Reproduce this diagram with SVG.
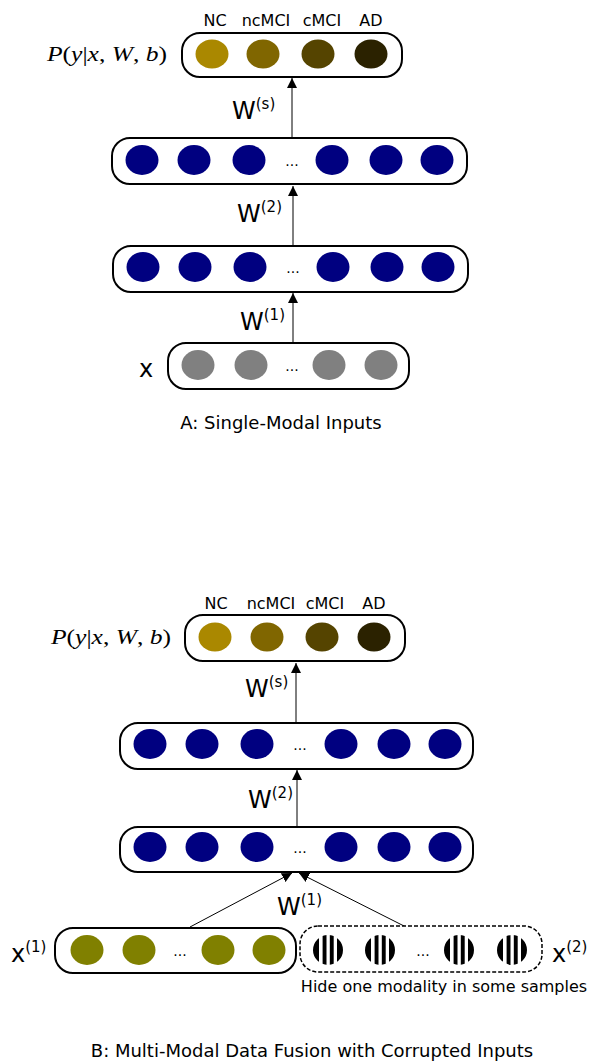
<svg xmlns="http://www.w3.org/2000/svg" width="590" height="1064" viewBox="0 0 590 1064">
<style>
.box{fill:#fff;stroke:#000;stroke-width:2}
.dbox{fill:#fff;stroke:#000;stroke-width:1.5;stroke-dasharray:4,2}
.lbl{font-family:"DejaVu Sans",sans-serif;font-size:16px;fill:#000;text-anchor:middle}
.hide{font-family:"DejaVu Sans",sans-serif;font-size:16px;fill:#000;text-anchor:middle}
.dots{font-family:"DejaVu Sans",sans-serif;font-size:14px;fill:#000;text-anchor:middle}
.cap{font-family:"DejaVu Sans",sans-serif;font-size:18px;fill:#000;text-anchor:middle}
.w{font-family:"DejaVu Sans",sans-serif;font-size:24px;fill:#000}
.sup{font-size:15px}
.math{font-family:"Liberation Serif",serif;font-size:21px;fill:#000}
.it{font-style:italic}
.edge{stroke:#000;stroke-width:1;fill:none;marker-end:url(#arr)}
.blue{fill:#000080}
.grey{fill:#808080}
.olive{fill:#808000}
.c1{fill:#aa8800}.c2{fill:#806600}.c3{fill:#554400}.c4{fill:#2b2200}
.str{fill:url(#stripes)}
</style>
<defs>
<marker id="arr" viewBox="0 0 10 10" refX="10" refY="5" markerWidth="10" markerHeight="10" markerUnits="userSpaceOnUse" orient="auto">
<path d="M0,0 L10,5 L0,10 z" fill="#000"/>
</marker>
<pattern id="stripes" patternUnits="objectBoundingBox" patternContentUnits="objectBoundingBox" width="1" height="1">
<rect x="0" y="0" width="1" height="1" fill="#fff"/>
<rect x="0" y="0" width="0.2" height="1" fill="#000"/>
<rect x="0.32" y="0" width="0.13" height="1" fill="#000"/>
<rect x="0.56" y="0" width="0.13" height="1" fill="#000"/>
<rect x="0.8" y="0" width="0.2" height="1" fill="#000"/>
</pattern>
</defs>

<g id="connectors">
<line class="edge" x1="292" y1="139" x2="292" y2="78"/>
<line class="edge" x1="293" y1="246" x2="293" y2="186"/>
<line class="edge" x1="293" y1="343" x2="293" y2="293"/>
<line class="edge" x1="296" y1="722" x2="296" y2="663"/>
<line class="edge" x1="297" y1="827" x2="297" y2="770"/>
<line class="edge" x1="190" y1="927" x2="292" y2="873"/>
<line class="edge" x1="406" y1="927" x2="299" y2="873"/>
</g>

<g id="labels-w">
<text class="w" x="232" y="119">W<tspan class="sup" dy="-10">(s)</tspan></text>
<text class="w" x="237" y="222">W<tspan class="sup" dy="-10">(2)</tspan></text>
<text class="w" x="240" y="330">W<tspan class="sup" dy="-10">(1)</tspan></text>
<text class="w" x="245" y="697">W<tspan class="sup" dy="-10">(s)</tspan></text>
<text class="w" x="248" y="808">W<tspan class="sup" dy="-10">(2)</tspan></text>
<text class="w" x="277" y="915">W<tspan class="sup" dy="-10">(1)</tspan></text>
</g>

<g id="A-output">
<rect class="box" x="182" y="33" width="220" height="44" rx="18"/>
<ellipse class="c1" cx="212" cy="54" rx="16.5" ry="14.5"/>
<ellipse class="c2" cx="263" cy="54" rx="16.5" ry="14.5"/>
<ellipse class="c3" cx="318" cy="54" rx="16.5" ry="14.5"/>
<ellipse class="c4" cx="371" cy="54" rx="16.5" ry="14.5"/>
<text class="lbl" x="215" y="26">NC</text>
<text class="lbl" x="266" y="26">ncMCI</text>
<text class="lbl" x="322" y="26">cMCI</text>
<text class="lbl" x="371" y="26">AD</text>
<text class="math" x="47" y="61" textLength="120" lengthAdjust="spacingAndGlyphs"><tspan class="it">P</tspan>(<tspan class="it">y</tspan>|<tspan class="it">x</tspan>, <tspan class="it">W</tspan>, <tspan class="it">b</tspan>)</text>
</g>

<g id="A-hidden2">
<rect class="box" x="112" y="138" width="355" height="46" rx="18"/>
<ellipse class="blue" cx="142" cy="160" rx="16.5" ry="15"/>
<ellipse class="blue" cx="194" cy="160" rx="16.5" ry="15"/>
<ellipse class="blue" cx="249" cy="160" rx="16.5" ry="15"/>
<text class="dots" x="292" y="166">...</text>
<ellipse class="blue" cx="332" cy="160" rx="16.5" ry="15"/>
<ellipse class="blue" cx="386" cy="160" rx="16.5" ry="15"/>
<ellipse class="blue" cx="437" cy="160" rx="16.5" ry="15"/>
</g>

<g id="A-hidden1">
<rect class="box" x="113" y="246" width="355" height="46" rx="18"/>
<ellipse class="blue" cx="143" cy="267" rx="16.5" ry="15"/>
<ellipse class="blue" cx="195" cy="267" rx="16.5" ry="15"/>
<ellipse class="blue" cx="250" cy="267" rx="16.5" ry="15"/>
<text class="dots" x="293" y="273">...</text>
<ellipse class="blue" cx="333" cy="267" rx="16.5" ry="15"/>
<ellipse class="blue" cx="387" cy="267" rx="16.5" ry="15"/>
<ellipse class="blue" cx="438" cy="267" rx="16.5" ry="15"/>
</g>

<g id="A-input">
<rect class="box" x="168" y="343" width="241" height="46" rx="18"/>
<ellipse class="grey" cx="198" cy="365" rx="16.5" ry="15"/>
<ellipse class="grey" cx="251" cy="365" rx="16.5" ry="15"/>
<text class="dots" x="292" y="371">...</text>
<ellipse class="grey" cx="329" cy="365" rx="16.5" ry="15"/>
<ellipse class="grey" cx="381" cy="365" rx="16.5" ry="15"/>
<text class="w" x="139" y="377">x</text>
</g>

<text class="cap" x="281" y="429">A: Single-Modal Inputs</text>

<g id="B-output">
<rect class="box" x="185" y="615" width="220" height="46" rx="18"/>
<ellipse class="c1" cx="215" cy="637" rx="16.5" ry="14.5"/>
<ellipse class="c2" cx="267" cy="637" rx="16.5" ry="14.5"/>
<ellipse class="c3" cx="322" cy="637" rx="16.5" ry="14.5"/>
<ellipse class="c4" cx="374" cy="637" rx="16.5" ry="14.5"/>
<text class="lbl" x="216" y="609">NC</text>
<text class="lbl" x="271" y="609">ncMCI</text>
<text class="lbl" x="325" y="609">cMCI</text>
<text class="lbl" x="374" y="609">AD</text>
<text class="math" x="51" y="644" textLength="120" lengthAdjust="spacingAndGlyphs"><tspan class="it">P</tspan>(<tspan class="it">y</tspan>|<tspan class="it">x</tspan>, <tspan class="it">W</tspan>, <tspan class="it">b</tspan>)</text>
</g>

<g id="B-hidden2">
<rect class="box" x="120" y="723" width="353" height="46" rx="18"/>
<ellipse class="blue" cx="150" cy="744" rx="16.5" ry="15"/>
<ellipse class="blue" cx="202" cy="744" rx="16.5" ry="15"/>
<ellipse class="blue" cx="257" cy="744" rx="16.5" ry="15"/>
<text class="dots" x="300" y="750">...</text>
<ellipse class="blue" cx="341" cy="744" rx="16.5" ry="15"/>
<ellipse class="blue" cx="394" cy="744" rx="16.5" ry="15"/>
<ellipse class="blue" cx="445" cy="744" rx="16.5" ry="15"/>
</g>

<g id="B-hidden1">
<rect class="box" x="120" y="827" width="353" height="45" rx="18"/>
<ellipse class="blue" cx="150" cy="847" rx="16.5" ry="15"/>
<ellipse class="blue" cx="202" cy="847" rx="16.5" ry="15"/>
<ellipse class="blue" cx="257" cy="847" rx="16.5" ry="15"/>
<text class="dots" x="300" y="853">...</text>
<ellipse class="blue" cx="341" cy="847" rx="16.5" ry="15"/>
<ellipse class="blue" cx="394" cy="847" rx="16.5" ry="15"/>
<ellipse class="blue" cx="445" cy="847" rx="16.5" ry="15"/>
</g>

<g id="B-input1">
<rect class="box" x="55" y="928" width="241" height="45" rx="18"/>
<ellipse class="olive" cx="87" cy="950" rx="16.5" ry="15"/>
<ellipse class="olive" cx="139" cy="950" rx="16.5" ry="15"/>
<text class="dots" x="180" y="956">...</text>
<ellipse class="olive" cx="218" cy="950" rx="16.5" ry="15"/>
<ellipse class="olive" cx="269" cy="950" rx="16.5" ry="15"/>
<text class="w" x="11" y="962">x<tspan class="sup" dy="-10">(1)</tspan></text>
</g>

<g id="B-input2">
<rect class="dbox" x="300" y="926" width="242" height="46" rx="18"/>
<ellipse class="str" cx="328" cy="950" rx="15" ry="15"/>
<ellipse class="str" cx="380" cy="950" rx="15" ry="15"/>
<text class="dots" x="423" y="956">...</text>
<ellipse class="str" cx="459" cy="950" rx="15" ry="15"/>
<ellipse class="str" cx="512" cy="950" rx="15" ry="15"/>
<text class="w" x="552" y="962">x<tspan class="sup" dy="-10">(2)</tspan></text>
<text class="hide" x="444" y="992">Hide one modality in some samples</text>
</g>

<text class="cap" x="312" y="1057">B: Multi-Modal Data Fusion with Corrupted Inputs</text>
</svg>
